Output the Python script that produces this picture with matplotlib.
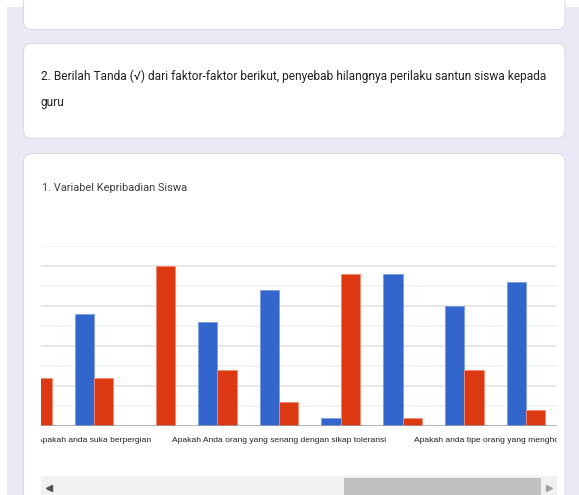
import matplotlib
matplotlib.use("Agg")
import matplotlib.pyplot as plt
import matplotlib.transforms as mtransforms
from matplotlib.patches import FancyBboxPatch, Rectangle
import numpy as np

plt.rcParams['font.family'] = ['Liberation Sans', 'DejaVu Sans']

# data (jumlah jawaban per pertanyaan)
categories = [
    "Apakah anda orang yang pemalu",
    "Apakah anda suka berpergian",
    "Apakah anda suka menyendiri",
    "Apakah anda orang yang mudah bergaul",
    "Apakah Anda orang yang senang dengan sikap toleransi",
    "Apakah anda orang yang suka marah",
    "Apakah anda orang yang suka membantu",
    "Apakah anda orang yang suka berbohong",
    "Apakah anda tipe orang yang menghormati orang tua anda",
]
shown_labels = [1, 4, 8]
ya_values = [14, 14, 0, 13, 17, 1, 19, 15, 18]
tidak_values = [6, 6, 20, 7, 3, 19, 1, 7, 2]

question = ["2. Berilah Tanda (√) dari faktor-faktor berikut, penyebab hilangnya perilaku santun siswa kepada",
            "guru"]
chart_title = "1. Variabel Kepribadian Siswa"

W, H = 579, 495
fig = plt.figure(figsize=(W / 100, H / 100), dpi=100)
fig.patch.set_facecolor('white')

# background in pixel coordinates
bg = fig.add_axes([0, 0, 1, 1])
bg.set_xlim(0, W)
bg.set_ylim(H, 0)
bg.axis('off')
bg.add_patch(Rectangle((7, 7), W, H, facecolor='#ece9f6', edgecolor='none'))

def card(y0, y1):
    bg.add_patch(FancyBboxPatch((23.5, y0), 541.5, y1 - y0,
                                boxstyle="round,pad=0,rounding_size=8",
                                facecolor='white', edgecolor='#dcdae3', linewidth=0.8))

card(-30, 29.5)
card(43.5, 138.5)
card(153.5, 540)

q1 = bg.text(40.7, 80, question[0], fontsize=9, color='#202124', va='baseline', ha='left',
             family=['Roboto', 'DejaVu Sans'])
q2 = bg.text(40.7, 105.7, question[1], fontsize=9, color='#202124', va='baseline', ha='left',
             family=['Roboto', 'DejaVu Sans'])
ct = bg.text(41.5, 191, chart_title, fontsize=9, color='#3c4043', va='baseline', ha='left',
             family=['Roboto', 'DejaVu Sans'])

# scrollbar
bg.add_patch(Rectangle((40.7, 476), 516, 30, facecolor='#f1f1f1', edgecolor='none'))
bg.add_patch(Rectangle((344, 478.3), 196.7, 30, facecolor='#c1c1c1', edgecolor='none'))
bg.plot([48.5], [487.5], marker='<', markersize=4, color='#505050')
bg.plot([549], [487.5], marker='>', markersize=4, color='#a3a3a3')

# chart area
left, right, top, base = 40.7, 556.7, 246, 426
ax = fig.add_axes([left / W, (H - base) / H, (right - left) / W, (base - top) / H])
ax.set_facecolor('none')
x = np.arange(len(categories))
w = 0.313
ax.set_xlim(0.136, 8.499)
ax.set_ylim(0, 22.5)

for v in np.arange(2.5, 22.6, 2.5):
    major = abs(v % 5) < 1e-6
    ax.axhline(v, color='#e4e4e4' if major else '#f2f2f2', linewidth=1.2, zorder=0)

ax.bar(x - w / 2, ya_values, w, color='#3366cc', edgecolor='#7d9de0', linewidth=0.6, zorder=2)
ax.bar(x + w / 2, tidak_values, w, color='#dc3912', edgecolor='#f08a70', linewidth=0.6, zorder=2)
ax.axhline(0, color='#9e9e9e', linewidth=1.8, zorder=3)

for s in ax.spines.values():
    s.set_visible(False)
ax.set_xticks([])
ax.set_yticks([])

trans = mtransforms.blended_transform_factory(ax.transData, bg.transData)
clip = mtransforms.Bbox.from_extents(left, 0, right, H)
xlabels = []
for i in shown_labels:
    t = ax.text(x[i], 440, categories[i], transform=trans, fontsize=7,
                color='#222222', ha='center', va='center', clip_on=True)
    t.set_clip_box(clip)
    xlabels.append(t)

# shrink the texts to the widths seen in the screenshot
fig.canvas.draw()
r = fig.canvas.get_renderer()
def fit(t, target):
    return t.get_fontsize() * target / t.get_window_extent(r).width

qs = fit(q1, 505)
q1.set_fontsize(qs)
q2.set_fontsize(qs)
ct.set_fontsize(fit(ct, 146))
ls = fit(xlabels[1], 212)
for t in xlabels:
    t.set_fontsize(ls)

fig.savefig('out.png', dpi=100, facecolor='white')
